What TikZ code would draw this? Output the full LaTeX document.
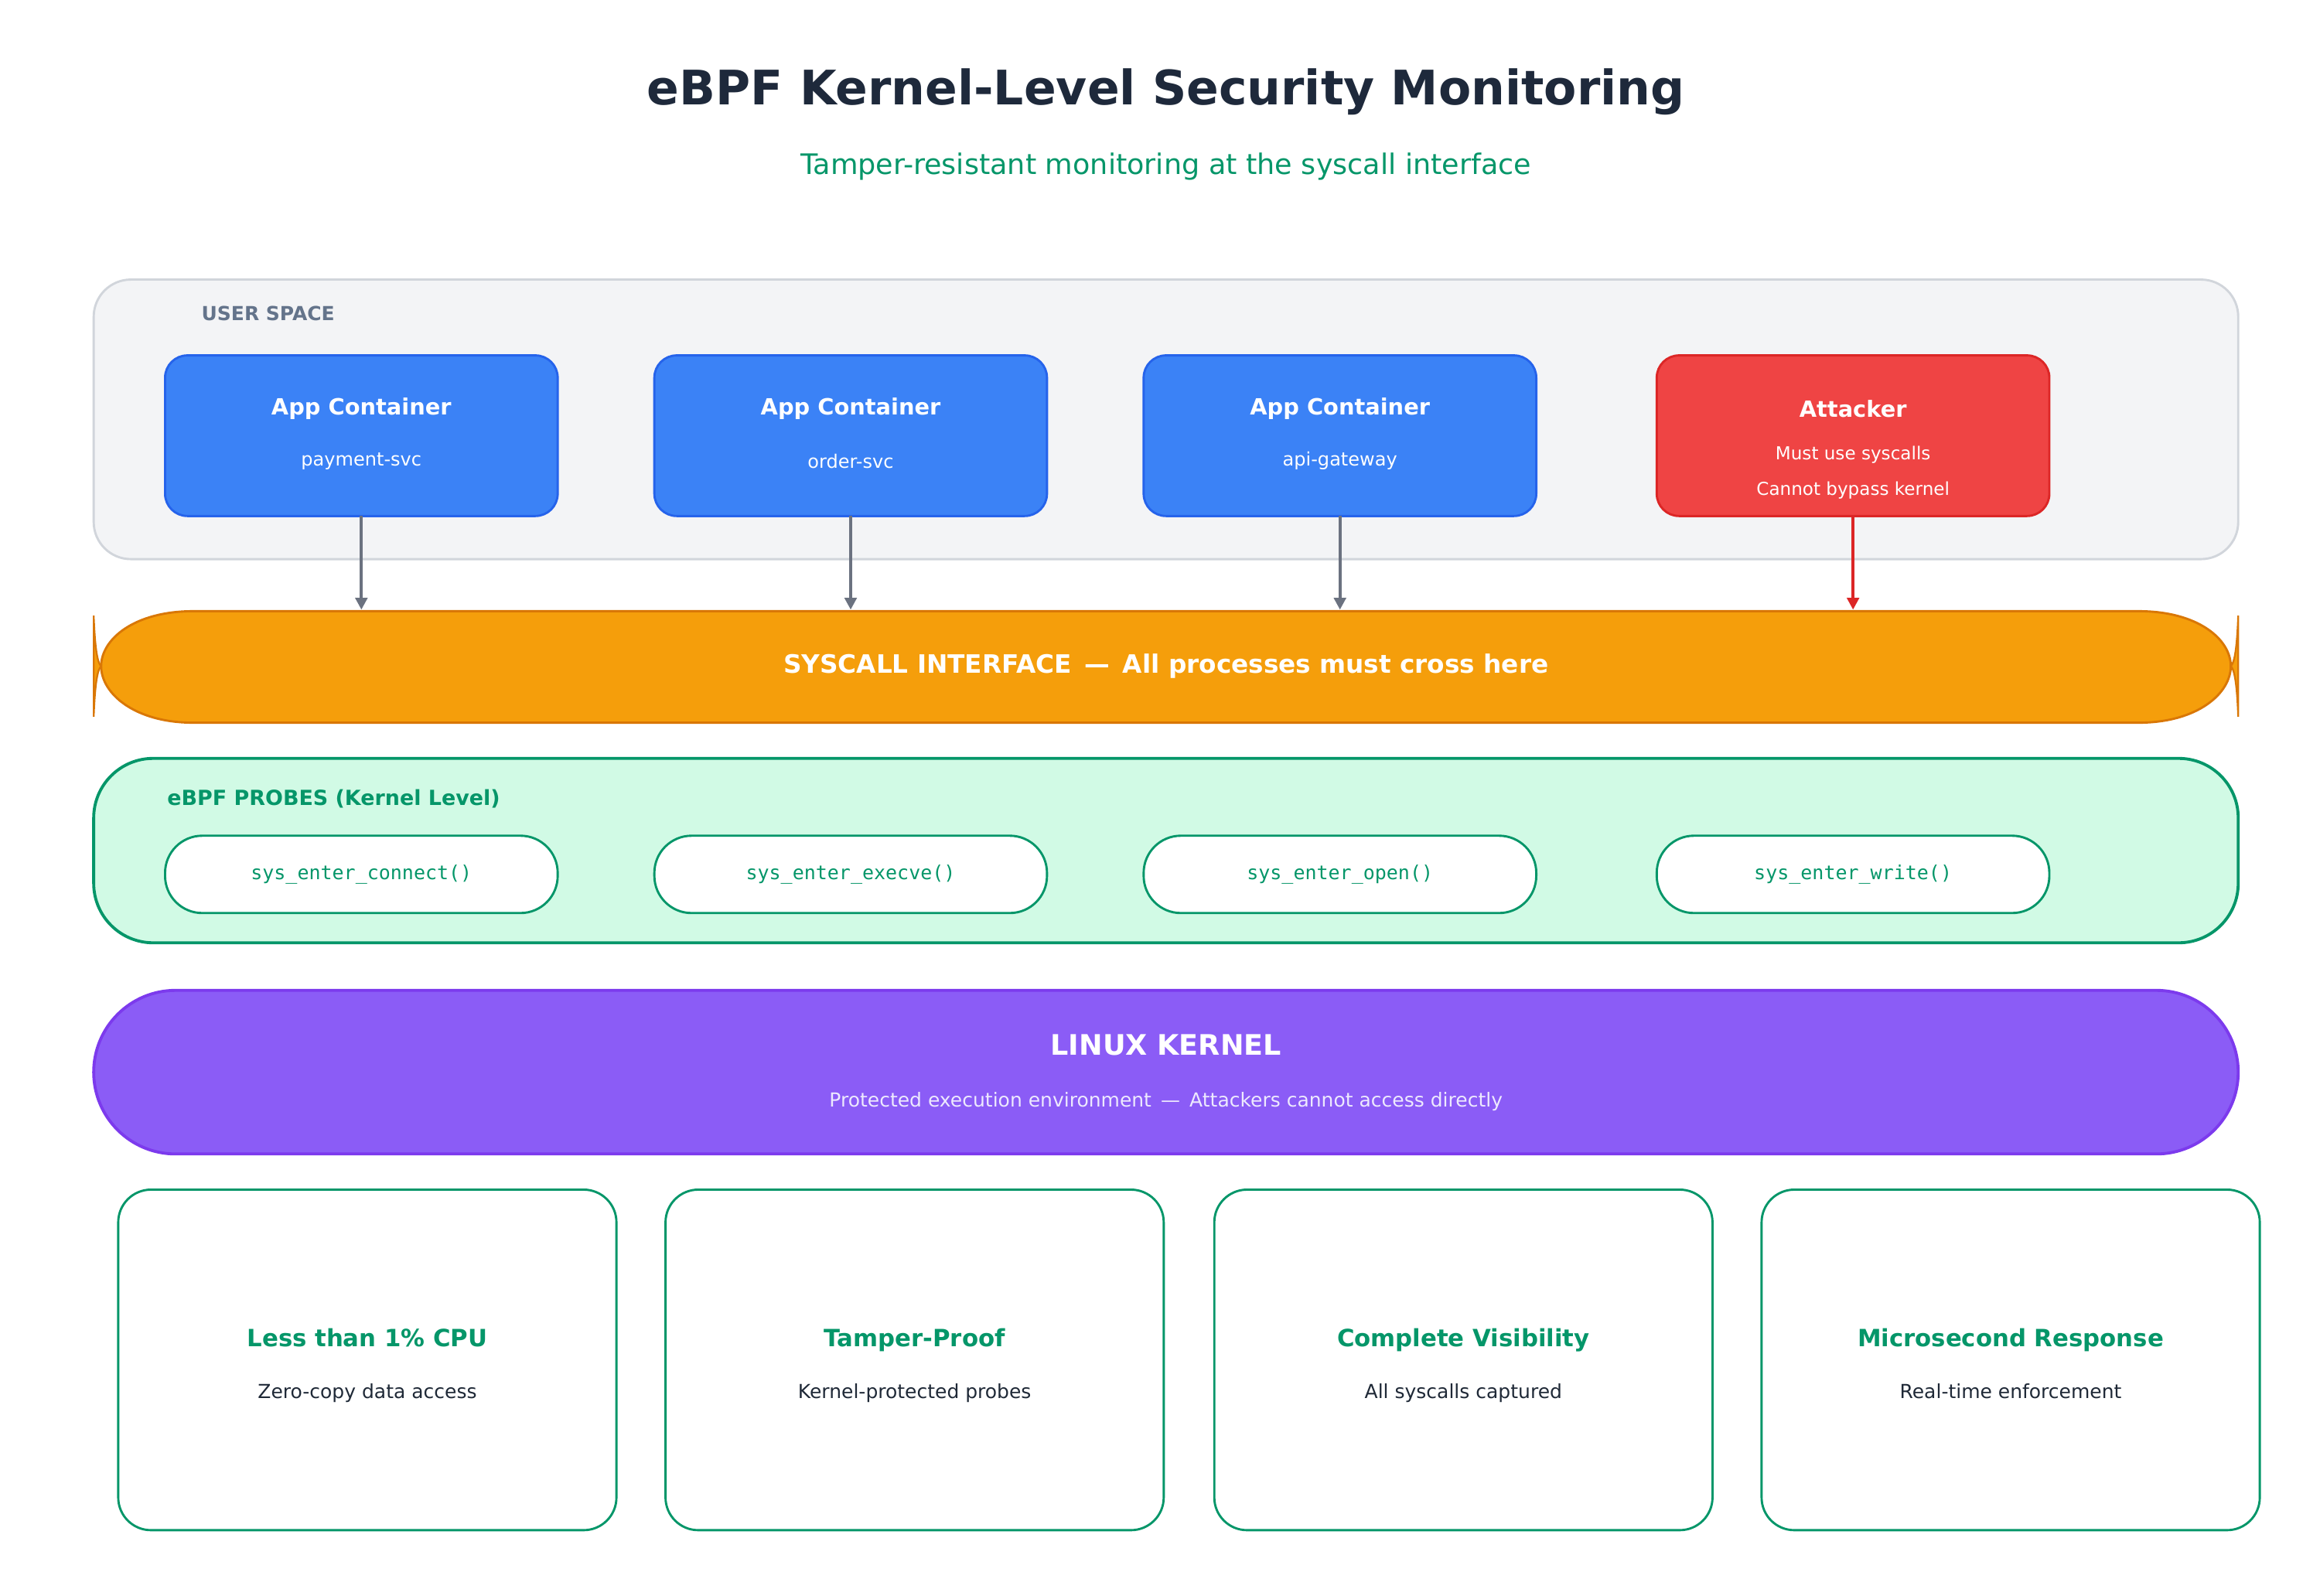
\documentclass[tikz,border=0pt]{standalone}
\usepackage{fontspec}
\setmainfont{DejaVu Sans}
\newfontfamily\monofont{DejaVu Sans Mono}
\usetikzlibrary{calc, positioning, arrows.meta}
\definecolor{titleblue}{HTML}{1E293B}
\definecolor{ebgreen}{HTML}{059669}
\definecolor{usrfill}{HTML}{F3F4F6}
\definecolor{usrline}{HTML}{D1D5DB}
\definecolor{usrtext}{HTML}{64748B}
\definecolor{appfill}{HTML}{3B82F6}
\definecolor{appline}{HTML}{2563EB}
\definecolor{attfill}{HTML}{EF4444}
\definecolor{attline}{HTML}{DC2626}
\definecolor{sysfill}{HTML}{F59E0B}
\definecolor{sysline}{HTML}{D97706}
\definecolor{probefill}{HTML}{D1FAE5}
\definecolor{kerfill}{HTML}{8B5CF6}
\definecolor{kerline}{HTML}{7C3AED}
\definecolor{kertext}{HTML}{EDE9FE}
\definecolor{arrgray}{HTML}{6B7280}
\definecolor{cardtext}{HTML}{1F2937}
\tikzset{
    box/.style = {draw, rounded corners=15pt, line width=1.5pt, outer sep=0pt, minimum width=264pt, minimum height=108pt, anchor=north},
    app/.style = {box, fill=appfill, draw=appline},
    probe/.style = {box, fill=white, draw=ebgreen, rounded corners=25pt, minimum height=52pt, text=ebgreen, font=\monofont\fontsize{13}{15}\selectfont},
    card/.style = {box, fill=white, draw=ebgreen, rounded corners=22pt, minimum width=335pt, minimum height=229pt},
    hd/.style = {font=\bfseries\fontsize{15}{18}\selectfont, text=white},
    sub/.style = {font=\fontsize{12.5}{15}\selectfont, text=white},
    flow/.style = {-{Triangle[length=8pt,width=8pt]}, line width=2pt, draw=arrgray}
}
\begin{document}
\begin{tikzpicture}[x=1pt, y=-1pt]
    \useasboundingbox (0,0) rectangle (1560,1073);
    % title
    \node[font=\bfseries\fontsize{32}{38}\selectfont, text=titleblue] (title) at (784,62) {eBPF Kernel-Level Security Monitoring};
    \node[font=\fontsize{19}{23}\selectfont, text=ebgreen] (subtitle) at (784,112) {Tamper-resistant monitoring at the syscall interface};
    % user space
    \draw[fill=usrfill, draw=usrline, line width=1.5pt, rounded corners=25pt] (63,188) rectangle (1505,376);
    \node[anchor=west, font=\bfseries\fontsize{13}{15}\selectfont, text=usrtext] (userlbl) at (132,211) {USER SPACE};
    \node[app] (app1) at (243,239) {};
    \node[app] (app2) at (572,239) {};
    \node[app] (app3) at (901,239) {};
    \node[box, fill=attfill, draw=attline] (att) at (1246,239) {};
    \node[hd] at (243,275) {App Container};
    \node[sub] at (243,310) {payment-svc};
    \node[hd] at (572,275) {App Container};
    \node[sub] at (572,310) {order-svc};
    \node[hd] at (901,275) {App Container};
    \node[sub] at (901,310) {api-gateway};
    \node[hd] at (1246,275) {Attacker};
    \node[sub, font=\fontsize{12}{14}\selectfont] at (1246,306) {Must use syscalls};
    \node[sub, font=\fontsize{12}{14}\selectfont] at (1246,330) {Cannot bypass kernel};
    % syscall interface
    \filldraw[fill=sysfill, draw=sysline, line width=1.5pt] (130,411) -- (1438,411)
        .. controls (1478,411) and (1500,430) .. (1500,448)
        .. controls (1500,466) and (1478,486) .. (1438,486) -- (130,486)
        .. controls (90,486) and (68,466) .. (68,448)
        .. controls (68,430) and (90,411) .. (130,411) -- cycle;
    \filldraw[fill=sysfill, draw=sysline, line width=1.2pt] (63,414) .. controls (64,440) and (66,446) .. (68,448)
        .. controls (66,450) and (64,456) .. (63,482) -- cycle;
    \filldraw[fill=sysfill, draw=sysline, line width=1.2pt] (1505,414) .. controls (1504,440) and (1502,446) .. (1500,448)
        .. controls (1502,450) and (1504,456) .. (1505,482) -- cycle;
    \coordinate (sys) at (784,410);
    \node[font=\bfseries\fontsize{17}{20}\selectfont, text=white] (syslbl) at (784,448) {SYSCALL INTERFACE \,---\, All processes must cross here};
    \draw[flow] (app1.south) -- (app1.south |- sys);
    \draw[flow] (app2.south) -- (app2.south |- sys);
    \draw[flow] (app3.south) -- (app3.south |- sys);
    \draw[flow, draw=attline] (att.south) -- (att.south |- sys);
    % probes
    \draw[fill=probefill, draw=ebgreen, line width=2pt, rounded corners=40pt] (63,510) rectangle (1505,634);
    \node[anchor=west, font=\bfseries\fontsize{14}{17}\selectfont, text=ebgreen] (probelbl) at (109,537) {eBPF PROBES (Kernel Level)};
    \node[probe] (p1) at (243,562) {sys\_enter\_connect()};
    \node[probe] (p2) at (572,562) {sys\_enter\_execve()};
    \node[probe] (p3) at (901,562) {sys\_enter\_open()};
    \node[probe] (p4) at (1246,562) {sys\_enter\_write()};
    % kernel
    \draw[fill=kerfill, draw=kerline, line width=2pt, rounded corners=55pt] (63,666) rectangle (1505,776);
    \node[font=\bfseries\fontsize{19}{23}\selectfont, text=white] (kernel) at (784,703) {LINUX KERNEL};
    \node[font=\fontsize{13}{16}\selectfont, text=kertext] (kersub) at (784,741) {Protected execution environment \,---\, Attackers cannot access directly};
    % benefits
    \foreach \x/\t/\s [count=\i] in {247/Less than 1\% CPU/Zero-copy data access,
                                     615/Tamper-Proof/Kernel-protected probes,
                                     984/Complete Visibility/All syscalls captured,
                                     1352/Microsecond Response/Real-time enforcement}{
        \node[card] (card\i) at (\x,800) {};
        \node[anchor=base, font=\bfseries\fontsize{16}{19}\selectfont, text=ebgreen] at ($(card\i.center)+(0,-9)$) {\t};
        \node[anchor=base, font=\fontsize{13}{16}\selectfont, text=cardtext] at ($(card\i.center)+(0,26)$) {\s};
    }
\end{tikzpicture}
\end{document}
